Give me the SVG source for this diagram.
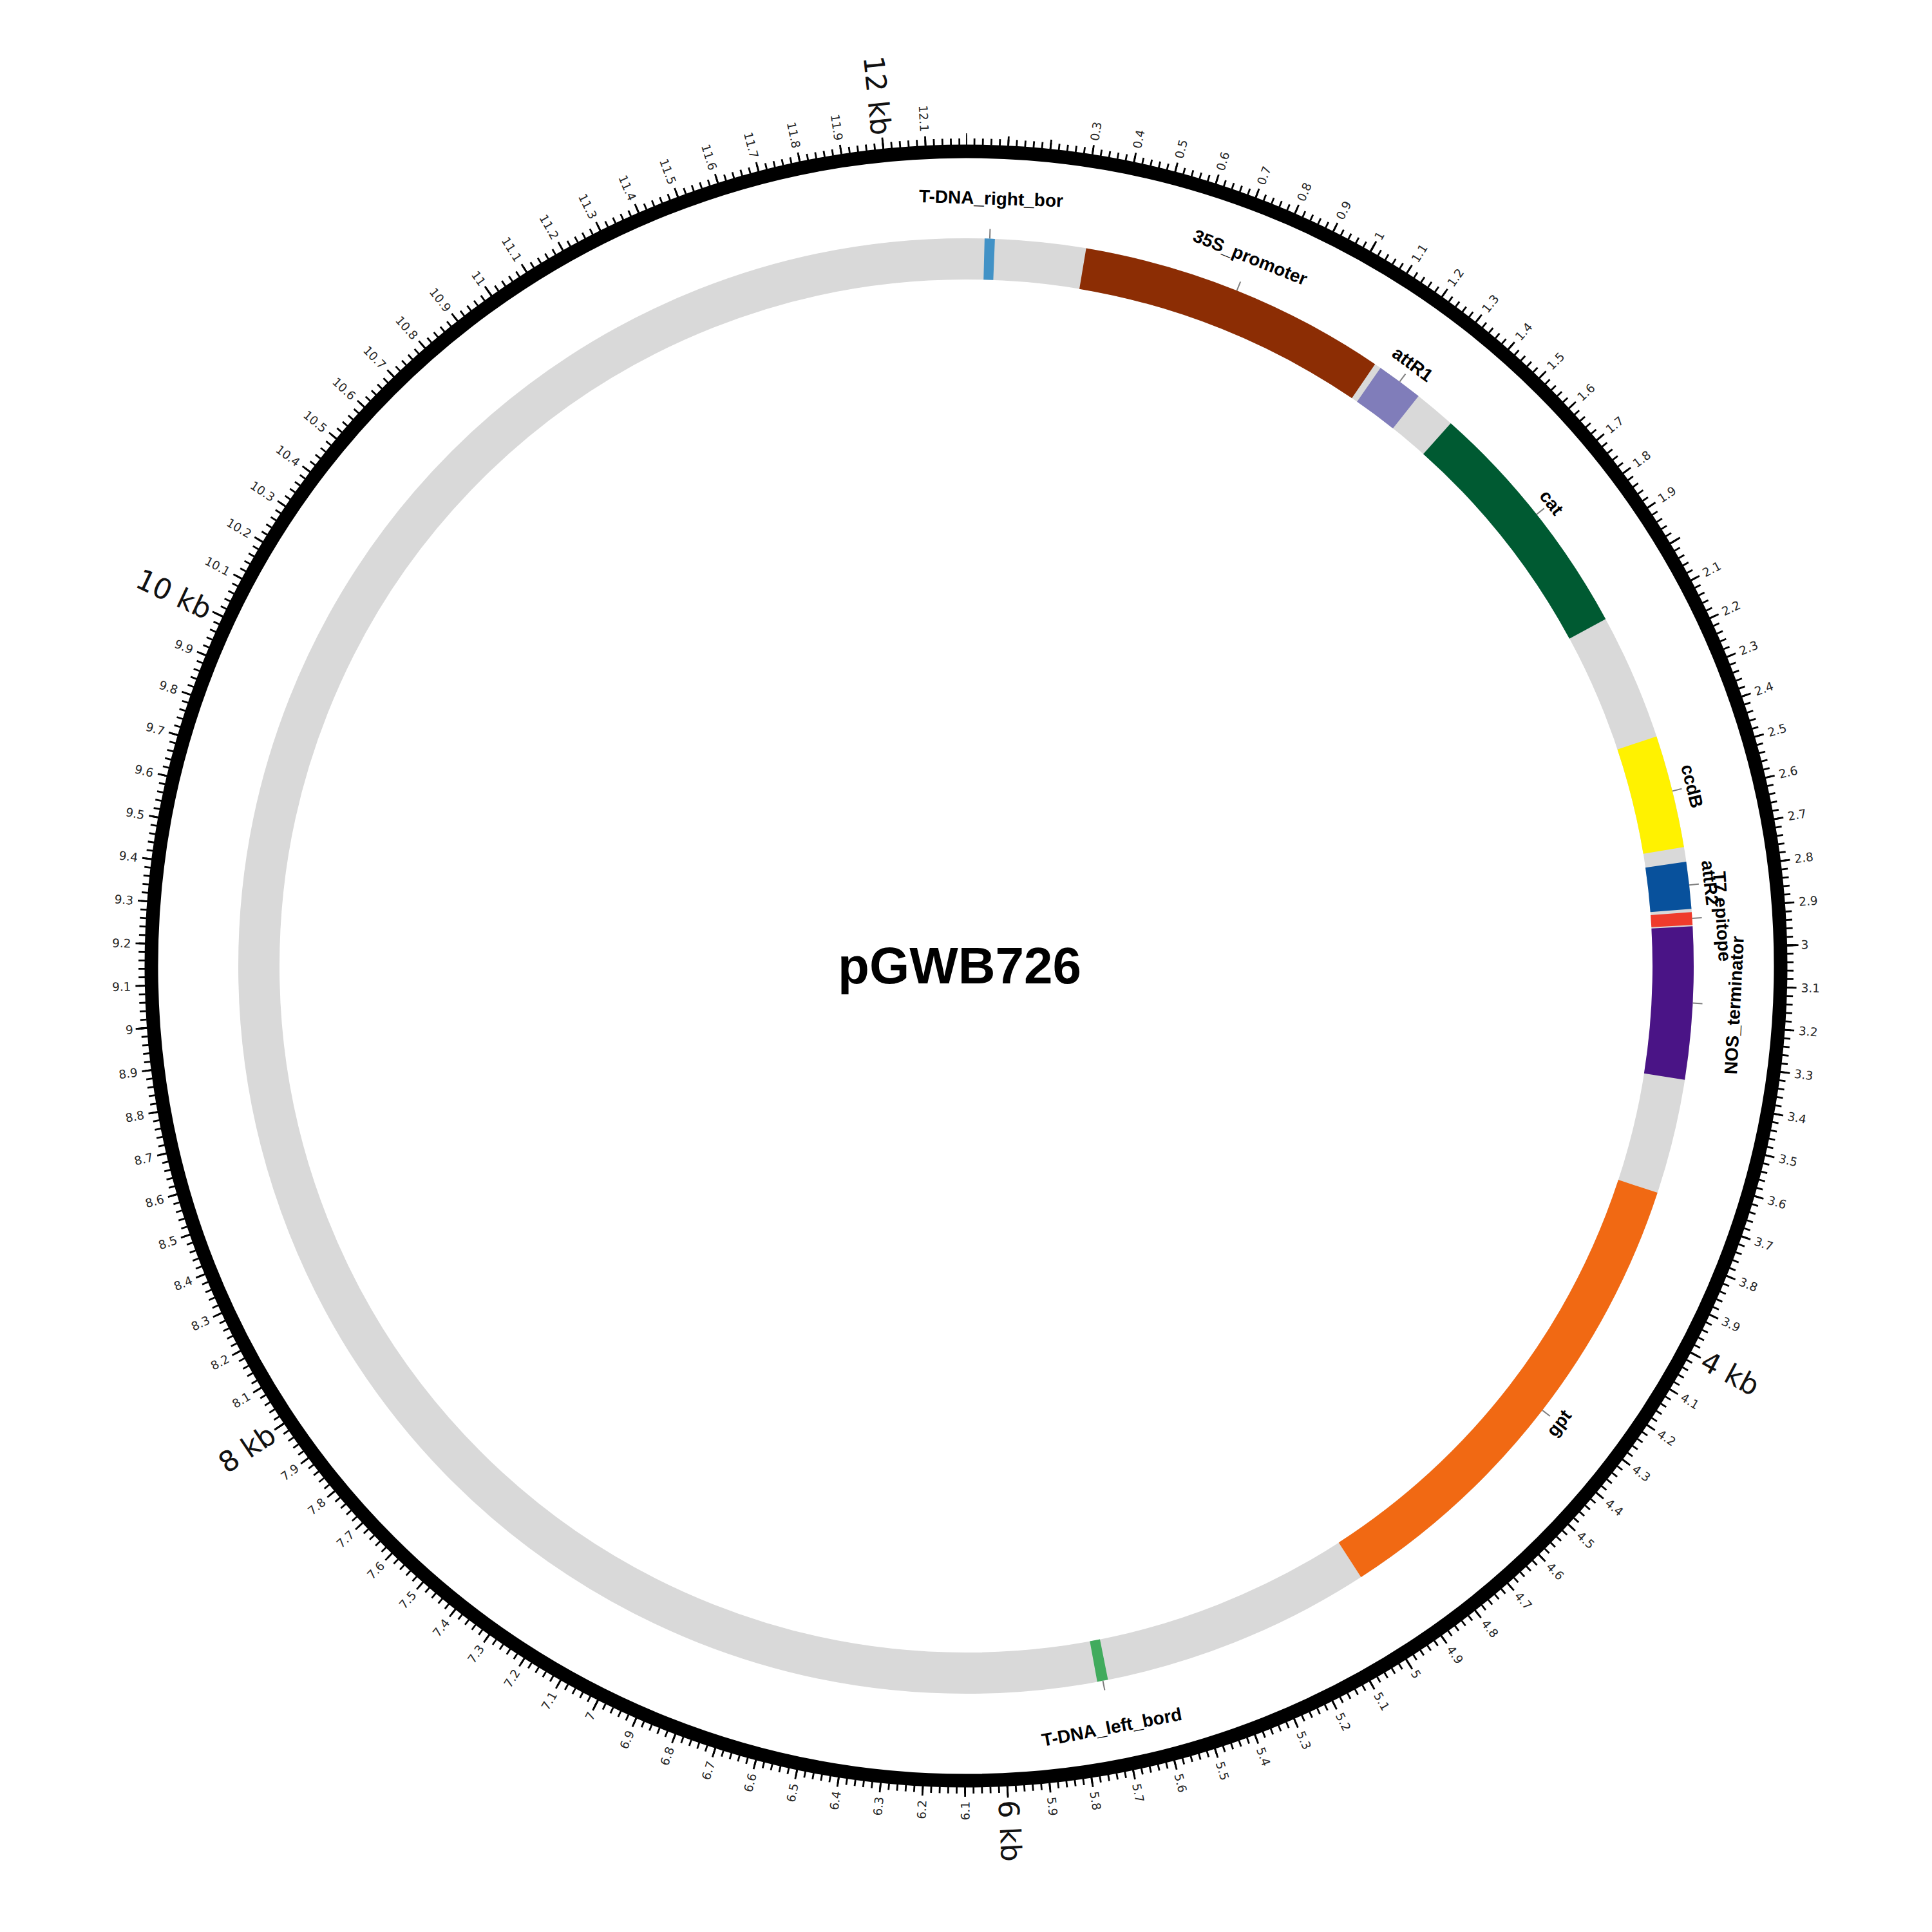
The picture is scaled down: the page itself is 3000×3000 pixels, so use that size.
<svg xmlns="http://www.w3.org/2000/svg" width="3000" height="3000" viewBox="0 0 3000 3000">
<style>
.t{font-family:"DejaVu Sans",sans-serif;font-size:18.5px;fill:#262626;dominant-baseline:central}
.r{text-anchor:start}
.l{text-anchor:end}
.k{font-size:44px;fill:#111}
.lab{font-family:"Liberation Sans",Arial,sans-serif;font-weight:bold;font-size:28px;fill:#000;text-anchor:middle}
.ld{stroke:#7f7f7f;stroke-width:2}
.f{fill:none;stroke-width:64}
.title{font-family:"Liberation Sans",Arial,sans-serif;font-weight:bold;font-size:80px;fill:#000;text-anchor:middle}
</style>
<rect width="3000" height="3000" fill="#fff"/>
<g transform="translate(1500 1500)">
 <g id="ruler">
  <circle r="1265" fill="none" stroke="#000" stroke-width="21"/>
  <g transform="rotate(-90)" fill="none" stroke="#000">
   <circle r="1280" stroke-width="10" stroke-dasharray="2.8 10.38763" stroke-dashoffset="1.4"/>
   <circle r="1282.5" stroke-width="15" stroke-dasharray="2.8 63.26695" stroke-dashoffset="1.4"/>
   <circle r="1284" stroke-width="18" stroke-dasharray="2.8 658.6421" stroke-dashoffset="1.4"/>
  </g>
  <g id="tick-labels">
<text class="t r" transform="rotate(8.8546) translate(0 -1297) rotate(-90)">0.3</text>
<text class="t r" transform="rotate(11.8062) translate(0 -1297) rotate(-90)">0.4</text>
<text class="t r" transform="rotate(14.7577) translate(0 -1297) rotate(-90)">0.5</text>
<text class="t r" transform="rotate(17.7093) translate(0 -1297) rotate(-90)">0.6</text>
<text class="t r" transform="rotate(20.6608) translate(0 -1297) rotate(-90)">0.7</text>
<text class="t r" transform="rotate(23.6124) translate(0 -1297) rotate(-90)">0.8</text>
<text class="t r" transform="rotate(26.5639) translate(0 -1297) rotate(-90)">0.9</text>
<text class="t r" transform="rotate(29.5155) translate(0 -1297) rotate(-90)">1</text>
<text class="t r" transform="rotate(32.4670) translate(0 -1297) rotate(-90)">1.1</text>
<text class="t r" transform="rotate(35.4185) translate(0 -1297) rotate(-90)">1.2</text>
<text class="t r" transform="rotate(38.3701) translate(0 -1297) rotate(-90)">1.3</text>
<text class="t r" transform="rotate(41.3216) translate(0 -1297) rotate(-90)">1.4</text>
<text class="t r" transform="rotate(44.2732) translate(0 -1297) rotate(-90)">1.5</text>
<text class="t r" transform="rotate(47.2247) translate(0 -1297) rotate(-90)">1.6</text>
<text class="t r" transform="rotate(50.1763) translate(0 -1297) rotate(-90)">1.7</text>
<text class="t r" transform="rotate(53.1278) translate(0 -1297) rotate(-90)">1.8</text>
<text class="t r" transform="rotate(56.0794) translate(0 -1297) rotate(-90)">1.9</text>
<text class="t r" transform="rotate(61.9824) translate(0 -1297) rotate(-90)">2.1</text>
<text class="t r" transform="rotate(64.9340) translate(0 -1297) rotate(-90)">2.2</text>
<text class="t r" transform="rotate(67.8855) translate(0 -1297) rotate(-90)">2.3</text>
<text class="t r" transform="rotate(70.8371) translate(0 -1297) rotate(-90)">2.4</text>
<text class="t r" transform="rotate(73.7886) translate(0 -1297) rotate(-90)">2.5</text>
<text class="t r" transform="rotate(76.7402) translate(0 -1297) rotate(-90)">2.6</text>
<text class="t r" transform="rotate(79.6917) translate(0 -1297) rotate(-90)">2.7</text>
<text class="t r" transform="rotate(82.6433) translate(0 -1297) rotate(-90)">2.8</text>
<text class="t r" transform="rotate(85.5948) translate(0 -1297) rotate(-90)">2.9</text>
<text class="t r" transform="rotate(88.5464) translate(0 -1297) rotate(-90)">3</text>
<text class="t r" transform="rotate(91.4979) translate(0 -1297) rotate(-90)">3.1</text>
<text class="t r" transform="rotate(94.4494) translate(0 -1297) rotate(-90)">3.2</text>
<text class="t r" transform="rotate(97.4010) translate(0 -1297) rotate(-90)">3.3</text>
<text class="t r" transform="rotate(100.3525) translate(0 -1297) rotate(-90)">3.4</text>
<text class="t r" transform="rotate(103.3041) translate(0 -1297) rotate(-90)">3.5</text>
<text class="t r" transform="rotate(106.2556) translate(0 -1297) rotate(-90)">3.6</text>
<text class="t r" transform="rotate(109.2072) translate(0 -1297) rotate(-90)">3.7</text>
<text class="t r" transform="rotate(112.1587) translate(0 -1297) rotate(-90)">3.8</text>
<text class="t r" transform="rotate(115.1103) translate(0 -1297) rotate(-90)">3.9</text>
<text class="t r k" transform="rotate(118.0618) translate(0 -1297) rotate(-90)">4 kb</text>
<text class="t r" transform="rotate(121.0133) translate(0 -1297) rotate(-90)">4.1</text>
<text class="t r" transform="rotate(123.9649) translate(0 -1297) rotate(-90)">4.2</text>
<text class="t r" transform="rotate(126.9164) translate(0 -1297) rotate(-90)">4.3</text>
<text class="t r" transform="rotate(129.8680) translate(0 -1297) rotate(-90)">4.4</text>
<text class="t r" transform="rotate(132.8195) translate(0 -1297) rotate(-90)">4.5</text>
<text class="t r" transform="rotate(135.7711) translate(0 -1297) rotate(-90)">4.6</text>
<text class="t r" transform="rotate(138.7226) translate(0 -1297) rotate(-90)">4.7</text>
<text class="t r" transform="rotate(141.6742) translate(0 -1297) rotate(-90)">4.8</text>
<text class="t r" transform="rotate(144.6257) translate(0 -1297) rotate(-90)">4.9</text>
<text class="t r" transform="rotate(147.5773) translate(0 -1297) rotate(-90)">5</text>
<text class="t r" transform="rotate(150.5288) translate(0 -1297) rotate(-90)">5.1</text>
<text class="t r" transform="rotate(153.4803) translate(0 -1297) rotate(-90)">5.2</text>
<text class="t r" transform="rotate(156.4319) translate(0 -1297) rotate(-90)">5.3</text>
<text class="t r" transform="rotate(159.3834) translate(0 -1297) rotate(-90)">5.4</text>
<text class="t r" transform="rotate(162.3350) translate(0 -1297) rotate(-90)">5.5</text>
<text class="t r" transform="rotate(165.2865) translate(0 -1297) rotate(-90)">5.6</text>
<text class="t r" transform="rotate(168.2381) translate(0 -1297) rotate(-90)">5.7</text>
<text class="t r" transform="rotate(171.1896) translate(0 -1297) rotate(-90)">5.8</text>
<text class="t r" transform="rotate(174.1412) translate(0 -1297) rotate(-90)">5.9</text>
<text class="t r k" transform="rotate(177.0927) translate(0 -1297) rotate(-90)">6 kb</text>
<text class="t l" transform="rotate(180.0442) translate(0 -1297) rotate(90)">6.1</text>
<text class="t l" transform="rotate(182.9958) translate(0 -1297) rotate(90)">6.2</text>
<text class="t l" transform="rotate(185.9473) translate(0 -1297) rotate(90)">6.3</text>
<text class="t l" transform="rotate(188.8989) translate(0 -1297) rotate(90)">6.4</text>
<text class="t l" transform="rotate(191.8504) translate(0 -1297) rotate(90)">6.5</text>
<text class="t l" transform="rotate(194.8020) translate(0 -1297) rotate(90)">6.6</text>
<text class="t l" transform="rotate(197.7535) translate(0 -1297) rotate(90)">6.7</text>
<text class="t l" transform="rotate(200.7051) translate(0 -1297) rotate(90)">6.8</text>
<text class="t l" transform="rotate(203.6566) translate(0 -1297) rotate(90)">6.9</text>
<text class="t l" transform="rotate(206.6082) translate(0 -1297) rotate(90)">7</text>
<text class="t l" transform="rotate(209.5597) translate(0 -1297) rotate(90)">7.1</text>
<text class="t l" transform="rotate(212.5112) translate(0 -1297) rotate(90)">7.2</text>
<text class="t l" transform="rotate(215.4628) translate(0 -1297) rotate(90)">7.3</text>
<text class="t l" transform="rotate(218.4143) translate(0 -1297) rotate(90)">7.4</text>
<text class="t l" transform="rotate(221.3659) translate(0 -1297) rotate(90)">7.5</text>
<text class="t l" transform="rotate(224.3174) translate(0 -1297) rotate(90)">7.6</text>
<text class="t l" transform="rotate(227.2690) translate(0 -1297) rotate(90)">7.7</text>
<text class="t l" transform="rotate(230.2205) translate(0 -1297) rotate(90)">7.8</text>
<text class="t l" transform="rotate(233.1721) translate(0 -1297) rotate(90)">7.9</text>
<text class="t l k" transform="rotate(236.1236) translate(0 -1297) rotate(90)">8 kb</text>
<text class="t l" transform="rotate(239.0751) translate(0 -1297) rotate(90)">8.1</text>
<text class="t l" transform="rotate(242.0267) translate(0 -1297) rotate(90)">8.2</text>
<text class="t l" transform="rotate(244.9782) translate(0 -1297) rotate(90)">8.3</text>
<text class="t l" transform="rotate(247.9298) translate(0 -1297) rotate(90)">8.4</text>
<text class="t l" transform="rotate(250.8813) translate(0 -1297) rotate(90)">8.5</text>
<text class="t l" transform="rotate(253.8329) translate(0 -1297) rotate(90)">8.6</text>
<text class="t l" transform="rotate(256.7844) translate(0 -1297) rotate(90)">8.7</text>
<text class="t l" transform="rotate(259.7360) translate(0 -1297) rotate(90)">8.8</text>
<text class="t l" transform="rotate(262.6875) translate(0 -1297) rotate(90)">8.9</text>
<text class="t l" transform="rotate(265.6391) translate(0 -1297) rotate(90)">9</text>
<text class="t l" transform="rotate(268.5906) translate(0 -1297) rotate(90)">9.1</text>
<text class="t l" transform="rotate(271.5421) translate(0 -1297) rotate(90)">9.2</text>
<text class="t l" transform="rotate(274.4937) translate(0 -1297) rotate(90)">9.3</text>
<text class="t l" transform="rotate(277.4452) translate(0 -1297) rotate(90)">9.4</text>
<text class="t l" transform="rotate(280.3968) translate(0 -1297) rotate(90)">9.5</text>
<text class="t l" transform="rotate(283.3483) translate(0 -1297) rotate(90)">9.6</text>
<text class="t l" transform="rotate(286.2999) translate(0 -1297) rotate(90)">9.7</text>
<text class="t l" transform="rotate(289.2514) translate(0 -1297) rotate(90)">9.8</text>
<text class="t l" transform="rotate(292.2030) translate(0 -1297) rotate(90)">9.9</text>
<text class="t l k" transform="rotate(295.1545) translate(0 -1297) rotate(90)">10 kb</text>
<text class="t l" transform="rotate(298.1060) translate(0 -1297) rotate(90)">10.1</text>
<text class="t l" transform="rotate(301.0576) translate(0 -1297) rotate(90)">10.2</text>
<text class="t l" transform="rotate(304.0091) translate(0 -1297) rotate(90)">10.3</text>
<text class="t l" transform="rotate(306.9607) translate(0 -1297) rotate(90)">10.4</text>
<text class="t l" transform="rotate(309.9122) translate(0 -1297) rotate(90)">10.5</text>
<text class="t l" transform="rotate(312.8638) translate(0 -1297) rotate(90)">10.6</text>
<text class="t l" transform="rotate(315.8153) translate(0 -1297) rotate(90)">10.7</text>
<text class="t l" transform="rotate(318.7669) translate(0 -1297) rotate(90)">10.8</text>
<text class="t l" transform="rotate(321.7184) translate(0 -1297) rotate(90)">10.9</text>
<text class="t l" transform="rotate(324.6700) translate(0 -1297) rotate(90)">11</text>
<text class="t l" transform="rotate(327.6215) translate(0 -1297) rotate(90)">11.1</text>
<text class="t l" transform="rotate(330.5730) translate(0 -1297) rotate(90)">11.2</text>
<text class="t l" transform="rotate(333.5246) translate(0 -1297) rotate(90)">11.3</text>
<text class="t l" transform="rotate(336.4761) translate(0 -1297) rotate(90)">11.4</text>
<text class="t l" transform="rotate(339.4277) translate(0 -1297) rotate(90)">11.5</text>
<text class="t l" transform="rotate(342.3792) translate(0 -1297) rotate(90)">11.6</text>
<text class="t l" transform="rotate(345.3308) translate(0 -1297) rotate(90)">11.7</text>
<text class="t l" transform="rotate(348.2823) translate(0 -1297) rotate(90)">11.8</text>
<text class="t l" transform="rotate(351.2339) translate(0 -1297) rotate(90)">11.9</text>
<text class="t l k" transform="rotate(354.1854) translate(0 -1297) rotate(90)">12 kb</text>
<text class="t l" transform="rotate(357.1369) translate(0 -1297) rotate(90)">12.1</text>
  </g>
 </g>
 <circle id="backbone" r="1098" fill="none" stroke="#d9d9d9" stroke-width="64"/>
 <g id="connectors">
  <line class="ld" y1="-1130" y2="-1145" transform="rotate(1.874)"/>
  <line class="ld" y1="-1130" y2="-1145" transform="rotate(21.855)"/>
  <line class="ld" y1="-1130" y2="-1145" transform="rotate(36.584)"/>
  <line class="ld" y1="-1130" y2="-1145" transform="rotate(51.637)"/>
  <line class="ld" y1="-1130" y2="-1145" transform="rotate(76.090)"/>
  <line class="ld" y1="-1130" y2="-1145" transform="rotate(83.614)"/>
  <line class="ld" y1="-1130" y2="-1145" transform="rotate(86.245)"/>
  <line class="ld" y1="-1130" y2="-1145" transform="rotate(92.923)"/>
  <line class="ld" y1="-1130" y2="-1145" transform="rotate(127.624)"/>
  <line class="ld" y1="-1130" y2="-1145" transform="rotate(169.158)"/>
 </g>
 <g id="T-DNA_right_bor">
  <circle class="f" r="1098" transform="rotate(-90)" stroke="#4292c6" stroke-dasharray="15.5 8000" stroke-dashoffset="-28.17"/>
  <text class="lab" transform="rotate(1.874) translate(0 -1183)">T-DNA_right_bor</text>
 </g>
 <g id="35S_promoter">
  <circle class="f" r="1098" transform="rotate(-90)" stroke="#8c2d04" stroke-dasharray="473.15 8000" stroke-dashoffset="-182.24"/>
  <text class="lab" transform="rotate(21.855) translate(0 -1176)">35S_promoter</text>
 </g>
 <g id="attR1">
  <circle class="f" r="1098" transform="rotate(-90)" stroke="#807dba" stroke-dasharray="71.5 8000" stroke-dashoffset="-665.35"/>
  <text class="lab" transform="rotate(36.584) translate(0 -1154)">attR1</text>
 </g>
 <g id="cat">
  <circle class="f" r="1098" transform="rotate(-90)" stroke="#005a32" stroke-dasharray="378.4 8000" stroke-dashoffset="-800.36"/>
  <text class="lab" transform="rotate(51.637) translate(0 -1150)">cat</text>
 </g>
 <g id="ccdB">
  <circle class="f" r="1098" transform="rotate(-90)" stroke="#fff200" stroke-dasharray="172.12 8000" stroke-dashoffset="-1372.09"/>
  <text class="lab" transform="rotate(76.09) translate(0 -1152)">ccdB</text>
 </g>
 <g id="attR2">
  <circle class="f" r="1098" transform="rotate(-90)" stroke="#08519c" stroke-dasharray="71.5 8000" stroke-dashoffset="-1566.61"/>
  <text class="lab" transform="rotate(83.614) translate(0 -1153)">attR2</text>
 </g>
 <g id="T7_epitope">
  <circle class="f" r="1098" transform="rotate(-90)" stroke="#ef3b2c" stroke-dasharray="19.34 8000" stroke-dashoffset="-1643.08"/>
  <text class="lab" transform="rotate(86.245) translate(0 -1167)">T7 epitope</text>
 </g>
 <g id="NOS_terminator">
  <circle class="f" r="1098" transform="rotate(-90)" stroke="#4a1486" stroke-dasharray="232.75 8000" stroke-dashoffset="-1664.35"/>
  <text class="lab" transform="rotate(92.923) translate(0 -1204) rotate(180)">NOS_terminator</text>
 </g>
 <g id="gpt">
  <circle class="f" r="1098" transform="rotate(-90)" stroke="#f16913" stroke-dasharray="746.63 8000" stroke-dashoffset="-2072.45"/>
  <text class="lab" transform="rotate(127.624) translate(0 -1172) rotate(180)">gpt</text>
 </g>
 <g id="T-DNA_left_bord">
  <circle class="f" r="1098" transform="rotate(-90)" stroke="#41ab5d" stroke-dasharray="16.52 8000" stroke-dashoffset="-3233.46"/>
  <text class="lab" transform="rotate(169.158) translate(0 -1213) rotate(180)">T-DNA_left_bord</text>
 </g>
</g>
<text id="title" class="title" x="1490" y="1527">pGWB726</text>
</svg>
